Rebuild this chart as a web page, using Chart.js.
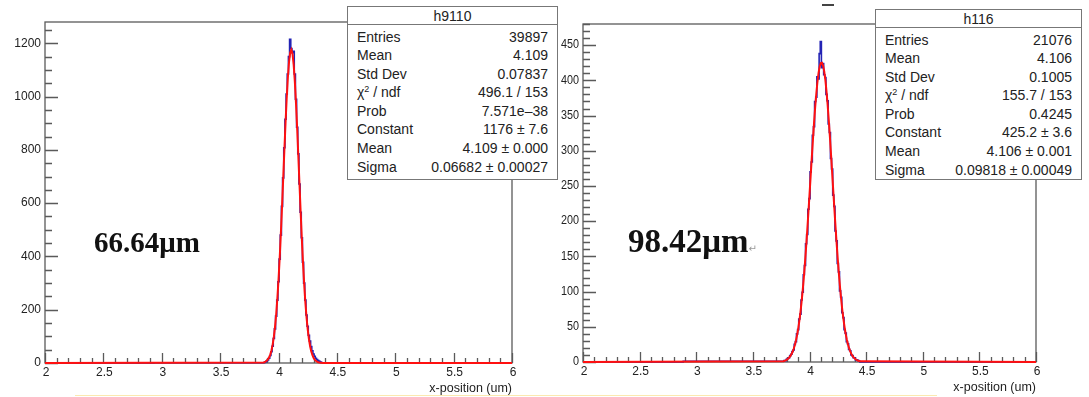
<!DOCTYPE html>
<html>
<head>
<meta charset="utf-8">
<script src="https://cdn.jsdelivr.net/npm/chart.js@4.4.1/dist/chart.umd.min.js"></script>
<style>
  body { margin: 0; background: #fff; width: 1089px; height: 397px; overflow: hidden; position: relative; font-family: "Liberation Sans", Arial, sans-serif; }
  canvas { position: absolute; top: 0; }
  #c1 { left: 0; }
  #c2 { left: 545px; }
  .stats { position: absolute; background: #fff; border: 1.3px solid #777; color: #222; font-size: 14px; }
  .stats .head { text-align: center; border-bottom: 1.3px solid #777; height: 17px; line-height: 18px; margin-bottom: 2.5px; }
  .stats .row { display: flex; justify-content: space-between; height: 18.6px; line-height: 18.6px; padding: 0 9px 0 9px; }
  .stats sup { font-size: 9px; vertical-align: 5px; line-height: 0; }
  .note { position: absolute; font-family: "Liberation Serif", "Times New Roman", serif; font-weight: bold; color: #111; white-space: nowrap; }
  .ret { font-family: "DejaVu Sans", sans-serif; font-weight: normal; font-size: 10px; color: #999; }
  #dash { position: absolute; left: 822px; top: 4px; width: 12px; height: 2px; background: #444; }
  #rule { position: absolute; left: 75px; top: 395px; width: 862px; height: 1px; background: #fbe9b0; }
</style>
</head>
<body>
<canvas id="c1" width="545" height="397"></canvas>
<canvas id="c2" width="544" height="397"></canvas>

<div class="stats" id="s1" style="left:347px; top:6px; width:209px; height:172px;"></div>
<div class="stats" id="s2" style="left:875px; top:9px; width:205px; height:169px;"></div>

<div class="note" style="left:94px; top:228px; font-size:29px; line-height:29px;">66.64μm</div>
<div class="note" style="left:628px; top:225px; font-size:33px; line-height:33px;">98.42μm<span class="ret">↵</span></div>
<div id="dash"></div>
<div id="rule"></div>

<script>
// histogram binning (bin contents every 0.01 along x-position)
const binStep = 0.01;
const xRange = [2, 6];

// h9110
const leftStart = 3.87;
const histLeft = [1, 2, 4, 7, 11, 18, 28, 42, 63, 92, 128, 176, 236,
  305, 390, 480, 588, 695, 808, 915, 1010, 1085, 1150, 1215, 1180, 1165, 1170, 1085,
  990, 885, 785, 672, 566, 470, 378, 300, 236, 180, 138, 104, 82, 62, 46, 34,
  25, 18, 13, 9, 6, 4, 2, 1, 0];
const fitLeft = [2, 3, 5.5, 9, 14, 21.5, 32.5, 48, 69, 98, 135, 182, 241,
  311, 392, 484, 585, 690, 796, 899, 992, 1070, 1129, 1165, 1176, 1160, 1119, 1056,
  974, 879, 775, 669, 564, 465, 375, 296, 228, 172, 127, 91.5, 64.5, 44.5, 30, 20,
  13, 8, 5, 3, 1.7, 1, 0.5, 0.3, 0.2];

// h116
const rightStart = 3.77;
const histRight = [1, 2, 2, 4, 5, 6, 9, 11, 15, 17, 25, 29, 40, 46, 61, 68, 88, 99, 124, 137, 168, 181, 217,
  232, 270, 284, 322, 334, 370, 376, 405, 402, 438, 455, 418, 424, 408, 404, 380, 371,
  338, 326, 289, 274, 237, 221, 186, 172, 140, 128, 101, 92, 70, 63, 46, 41, 29, 26,
  18, 16, 10, 9, 6, 6, 3, 3, 2, 1, 0];
const fitRight = [1.2, 1.7, 2.4, 3.3, 4.5, 6.1, 8.2, 10.8, 14.2, 18.4, 23.7, 30.1, 37.8, 47.1, 58.0, 70.6,
  85.3, 101.8, 120.3, 140.7, 162.9, 186.6, 211.6,
  237.4, 263.6, 289.7, 315.1, 339.2, 361.4, 381.0, 397.6, 410.5, 419.6, 424.4, 424.9, 420.9,
  412.7, 400.5, 384.6, 365.5, 343.8, 320.1, 294.9, 268.9, 242.6, 216.7, 191.5, 167.5, 145.0,
  124.3, 105.4, 88.4, 73.4, 60.4, 49.1, 39.5, 31.5, 24.8, 19.4, 15.0, 11.4, 8.6, 6.5,
  4.8, 3.5, 2.6, 1.8, 1.3, 0.9];

// tick labels
const xTickLabels = ['2', '2.5', '3', '3.5', '4', '4.5', '5', '5.5', '6'];
const yTickLabelsLeft = ['0', '200', '400', '600', '800', '1000', '1200'];
const yTickLabelsRight = ['0', '50', '100', '150', '200', '250', '300', '350', '400', '450'];

// stats boxes
const statsLeft = {
  name: 'h9110',
  rows: [['Entries', '39897'], ['Mean', '4.109'], ['Std Dev', '0.07837'],
    ['χ<sup>2</sup> / ndf', '496.1 / 153'], ['Prob', '7.571e–38'], ['Constant', '1176 ± 7.6'],
    ['Mean', '4.109 ± 0.000'], ['Sigma', '0.06682 ± 0.00027']]
};
const statsRight = {
  name: 'h116',
  rows: [['Entries', '21076'], ['Mean', '4.106'], ['Std Dev', '0.1005'],
    ['χ<sup>2</sup> / ndf', '155.7 / 153'], ['Prob', '0.4245'], ['Constant', '425.2 ± 3.6'],
    ['Mean', '4.106 ± 0.001'], ['Sigma', '0.09818 ± 0.00049']]
};

function fillStats(id, s) {
  const box = document.getElementById(id);
  let html = `<div class="head">${s.name}</div>`;
  s.rows.forEach(r => {
    html += `<div class="row"><span>${r[0]}</span><span>${r[1]}</span></div>`;
  });
  box.innerHTML = html;
}
fillStats('s1', statsLeft);
fillStats('s2', statsRight);

// turn bin contents into points, flat at zero out to the axis ends
function toPoints(start, values) {
  const pts = [{ x: xRange[0], y: 0 }];
  values.forEach((v, i) => pts.push({ x: +(start + i * binStep).toFixed(3), y: v }));
  pts.push({ x: xRange[1], y: 0 });
  return pts;
}

// ROOT style frame with inward ticks
const rootAxes = {
  id: 'rootAxes',
  beforeDatasetsDraw(chart, args, o) {
    const { ctx, chartArea: a, scales: { x, y } } = chart;
    ctx.save();
    ctx.strokeStyle = '#5a5a5a';
    ctx.lineWidth = 1.3;
    ctx.strokeRect(a.left, a.top, a.right - a.left, a.bottom - a.top);

    ctx.beginPath();
    for (let v = xRange[0]; v <= xRange[1] + 1e-9; v += 0.1) {
      const px = Math.round(x.getPixelForValue(v)) + 0.5;
      const major = Math.abs(v * 2 - Math.round(v * 2)) < 1e-6;
      ctx.moveTo(px, a.bottom);
      ctx.lineTo(px, a.bottom - (major ? 10 : 5));
    }
    for (let v = 0; v <= y.max + 1e-9; v += o.yMinor) {
      const py = Math.round(y.getPixelForValue(v)) + 0.5;
      const major = Math.abs(v / o.yMajor - Math.round(v / o.yMajor)) < 1e-6;
      ctx.moveTo(a.left, py);
      ctx.lineTo(a.left + (major ? 13 : 7), py);
    }
    ctx.stroke();

    ctx.fillStyle = '#222';
    ctx.font = '12px "Liberation Sans", Arial, sans-serif';
    ctx.textAlign = 'center';
    ctx.textBaseline = 'middle';
    xTickLabels.forEach(t => {
      ctx.fillText(t, x.getPixelForValue(+t) + 1, a.bottom + 10);
    });
    ctx.textAlign = 'right';
    o.yLabels.forEach(t => {
      const py = y.getPixelForValue(+t);
      ctx.save();
      ctx.translate(a.left - 4, py);
      ctx.scale(o.squash, 1);
      ctx.fillText(t, 0, 0);
      ctx.restore();
    });
    ctx.font = '12.5px "Liberation Sans", Arial, sans-serif';
    ctx.fillText('x-position (um)', a.right, a.bottom + 26);
    ctx.restore();
  }
};

function makeChart(id, start, hist, fit, yMax, opts, padding) {
  return new Chart(document.getElementById(id), {
    type: 'line',
    data: {
      datasets: [
        { data: toPoints(start, fit), borderColor: '#ff1010', borderWidth: 2, tension: 0, clip: false },
        { data: toPoints(start, hist), borderColor: '#2323b4', borderWidth: 1.6, stepped: 'middle', clip: false }
      ]
    },
    options: {
      responsive: false,
      animation: false,
      layout: { padding },
      elements: { point: { radius: 0 } },
      scales: {
        x: { type: 'linear', min: xRange[0], max: xRange[1], display: false },
        y: { min: 0, max: yMax, display: false }
      },
      plugins: { legend: { display: false }, tooltip: { enabled: false }, rootAxes: opts }
    },
    plugins: [rootAxes]
  });
}

makeChart('c1', leftStart, histLeft, fitLeft, 1280,
  { yLabels: yTickLabelsLeft, yMajor: 200, yMinor: 50, squash: 1 },
  { left: 45, right: 33, top: 22, bottom: 34 });

makeChart('c2', rightStart, histRight, fitRight, 480,
  { yLabels: yTickLabelsRight, yMajor: 50, yMinor: 10, squash: 0.9 },
  { left: 38, right: 53, top: 24, bottom: 35 });
</script>
</body>
</html>
